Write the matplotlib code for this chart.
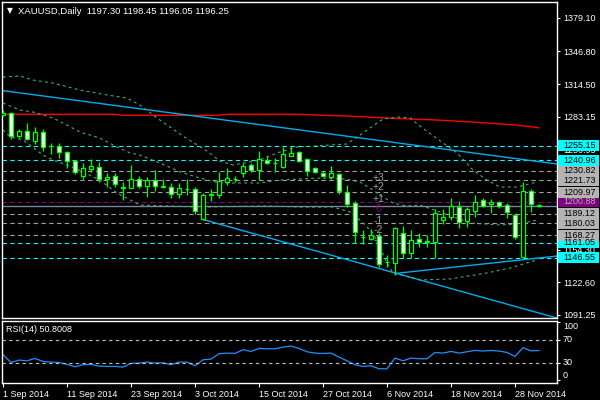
import numpy as np
import matplotlib
matplotlib.use('Agg')
import matplotlib.pyplot as plt
from matplotlib.patches import Rectangle

plt.rcParams['font.family'] = ['Liberation Sans', 'DejaVu Sans']

# daily XAUUSD bars, 1 Sep 2014 .. 3 Dec 2014
opens = [1284.8, 1286.4, 1264.7, 1269.3, 1259.9, 1268.0, 1254.3, 1254.5, 1248.7, 1240.2,
         1226.0, 1232.2, 1234.4, 1222.8, 1226.0, 1214.5, 1214.3, 1222.5, 1216.3, 1221.8,
         1215.3, 1214.7, 1208.0, 1213.0, 1212.8, 1184.3, 1207.3, 1207.3, 1220.2, 1222.8,
         1228.9, 1236.3, 1231.5, 1241.2, 1238.5, 1234.7, 1245.4, 1248.7, 1241.9, 1233.1,
         1228.9, 1225.0, 1227.3, 1210.5, 1199.2, 1166.5, 1164.3, 1168.0, 1142.8, 1140.9,
         1170.1, 1151.3, 1164.6, 1162.3, 1162.0, 1183.0, 1186.2, 1195.4, 1182.4, 1192.0,
         1202.4, 1198.2, 1200.8, 1197.3, 1187.9, 1147.5, 1211.4, 1197.30]
highs = [1289.6, 1287.5, 1271.2, 1276.8, 1272.9, 1271.0, 1257.4, 1257.4, 1249.5, 1241.2,
         1238.0, 1242.2, 1239.0, 1228.3, 1228.9, 1219.6, 1236.3, 1225.7, 1225.0, 1231.5,
         1222.5, 1218.6, 1218.6, 1222.5, 1215.3, 1208.9, 1212.8, 1229.8, 1233.1, 1225.7,
         1238.0, 1238.0, 1249.9, 1245.1, 1242.9, 1254.1, 1254.8, 1250.2, 1242.9, 1234.7,
         1230.8, 1235.4, 1228.3, 1217.0, 1201.7, 1172.9, 1174.3, 1170.0, 1149.1, 1176.0,
         1176.9, 1173.3, 1170.1, 1168.5, 1193.4, 1193.4, 1204.1, 1201.7, 1196.0, 1207.3,
         1204.1, 1203.1, 1201.5, 1199.2, 1190.1, 1220.2, 1212.8, 1198.45]
lows = [1284.0, 1262.0, 1262.2, 1261.0, 1256.4, 1250.2, 1246.7, 1243.4, 1233.1, 1227.3,
        1222.8, 1229.8, 1220.2, 1215.3, 1215.3, 1202.4, 1213.8, 1214.0, 1205.6, 1211.4,
        1213.8, 1204.1, 1204.1, 1207.3, 1188.9, 1183.5, 1201.4, 1204.1, 1217.0, 1220.2,
        1225.0, 1229.8, 1221.8, 1237.3, 1229.8, 1233.9, 1245.0, 1239.5, 1225.7, 1228.3,
        1225.0, 1222.5, 1208.2, 1196.0, 1161.0, 1159.8, 1163.6, 1137.5, 1137.5, 1129.7,
        1146.2, 1146.2, 1157.2, 1157.2, 1145.9, 1179.2, 1183.0, 1175.0, 1176.0, 1186.2,
        1195.4, 1190.1, 1194.4, 1185.3, 1164.3, 1145.9, 1191.1, 1196.05]
closes = [1286.3, 1264.7, 1269.3, 1261.3, 1268.0, 1254.1, 1255.0, 1249.3, 1240.5, 1229.8,
          1233.1, 1235.4, 1222.5, 1225.0, 1218.0, 1214.9, 1222.8, 1216.3, 1221.8, 1216.3,
          1215.7, 1208.0, 1213.8, 1213.4, 1191.8, 1207.0, 1208.7, 1220.8, 1223.5, 1223.2,
          1235.4, 1231.5, 1241.9, 1238.0, 1238.1, 1247.0, 1248.3, 1240.5, 1230.8, 1229.8,
          1226.0, 1228.3, 1211.4, 1198.5, 1171.1, 1166.2, 1168.2, 1140.1, 1142.4, 1175.0,
          1150.8, 1163.6, 1162.0, 1162.1, 1190.1, 1185.7, 1196.6, 1181.4, 1193.4, 1200.2,
          1196.6, 1200.2, 1196.9, 1191.1, 1166.8, 1211.4, 1198.3, 1196.25]

rsi = [43.5, 30.1, 34.2, 33.0, 37.1, 31.9, 30.7, 30.1, 26.7, 22.6,
       26.1, 26.7, 23.8, 23.2, 23.2, 22.0, 28.4, 29.0, 30.7, 29.0,
       29.6, 26.1, 30.7, 30.7, 24.3, 34.8, 35.9, 45.2, 46.4, 45.8,
       52.2, 49.3, 54.5, 53.9, 53.9, 56.8, 58.6, 54.5, 48.7, 46.4,
       45.8, 46.4, 39.4, 33.0, 26.1, 23.2, 24.3, 19.1, 19.1, 37.7,
       33.0, 37.7, 36.5, 36.5, 47.5, 46.4, 49.3, 46.4, 48.7, 51.0,
       49.9, 51.0, 49.9, 47.5, 40.6, 55.7, 50.4, 50.8]

dates = ['1 Sep 2014', '11 Sep 2014', '23 Sep 2014', '3 Oct 2014', '15 Oct 2014',
         '27 Oct 2014', '6 Nov 2014', '18 Nov 2014', '28 Nov 2014']
date_idx = [0, 8, 16, 24, 32, 40, 48, 56, 64]

# moving average (red) and bands (green dotted)
ma_idx = [0, 14, 15, 27, 28, 37, 40, 43, 45, 47, 50, 54, 58, 61, 64, 66, 67]
ma_val = [1285.5, 1285.5, 1284.5, 1284.5, 1285.5, 1285.5, 1284.5, 1283.8, 1283.1, 1282.2,
          1281.2, 1280.0, 1278.3, 1276.8, 1275.1, 1273.5, 1272.3]

up_idx = [0, 2.1, 3.75, 6.25, 9.6, 13, 15.5, 17.1, 19.6, 22.5, 25.5, 27.1, 28.75, 32.1, 34.25,
          36.75, 40.9, 43, 45, 47.5, 49.6, 50.9, 52.1, 55, 56.75, 58.75, 60.5, 62.1, 64.25, 66.75]
up_val = [1321.6, 1322.6, 1318.7, 1315.8, 1309.0, 1304.2, 1301.3, 1294.5, 1280.0, 1264.4,
          1249.9, 1240.2, 1236.3, 1241.2, 1248.0, 1253.8, 1255.7, 1256.7, 1267.4, 1280.9,
          1282.9, 1281.9, 1274.1, 1257.7, 1248.0, 1231.5, 1221.8, 1215.0, 1215.0, 1219.9]
mid_idx = [0, 2.1, 3.75, 6.25, 8, 9.6, 12.1, 14.25, 15.9, 17.1, 19.6, 22.5, 25.5, 27.1, 32.1,
           34.6, 39.6, 42.75, 44.6, 46.25, 47.1, 48.75, 50.5, 52.1, 54.6, 58.4, 62.1, 64.6, 66.75]
mid_val = [1296.4, 1289.6, 1287.7, 1281.9, 1275.1, 1268.3, 1262.5, 1253.8, 1248.0, 1246.0,
           1238.3, 1228.6, 1221.8, 1218.9, 1218.9, 1221.8, 1223.7, 1222.8, 1219.9, 1212.1,
           1207.3, 1199.5, 1196.6, 1197.6, 1190.8, 1180.1, 1178.2, 1179.2, 1183.0]
low_idx = [0, 0.9, 2.5, 5, 6.25, 8, 10, 12.1, 14.25, 15.9, 17.1, 20.5, 24.6, 33, 37.1, 41.25,
           43.4, 44.6, 46.25, 48, 48.75, 52.1, 55.9, 60.5, 63.4, 66.75]
low_val = [1270.3, 1263.5, 1260.6, 1246.0, 1241.2, 1236.3, 1229.6, 1221.8, 1209.2, 1202.4,
           1197.6, 1196.6, 1195.6, 1196.6, 1195.6, 1195.6, 1190.8, 1183.0, 1170.4, 1141.4,
           1131.7, 1124.9, 1125.9, 1131.7, 1136.5, 1144.3]

# trend lines: (bar index, price) anchors
trend_lines = [([0, 69.25], [1308.4, 1237.3]),
               ([25, 69.25], [1183.5, 1088.0]),
               ([49, 69.25], [1131.2, 1148.1])]

# horizontal levels: price, line colour, label box colour, label text colour
levels = [(1146.55, '#00FFFF', '#00FFFF', 'black'),
          (1161.05, '#00FFFF', '#00FFFF', 'black'),
          (1168.27, '#A0A0A0', '#B4B4B4', 'black'),
          (1180.03, '#A0A0A0', '#B4B4B4', 'black'),
          (1189.12, '#A0A0A0', '#B4B4B4', 'black'),
          (1200.88, '#800080', '#800080', '#B0B0B0'),
          (1209.97, '#A0A0A0', '#B4B4B4', 'black'),
          (1221.73, '#A0A0A0', '#B4B4B4', 'black'),
          (1230.82, '#A0A0A0', '#B4B4B4', 'black'),
          (1240.96, '#00FFFF', '#00FFFF', 'black'),
          (1255.15, '#00FFFF', '#00FFFF', 'black')]
bid = 1196.25

dev_labels = ['+3', '+2', '+1', '0', '-1', '-2', '-3']
dev_prices = [1223.5, 1214.7, 1203.1, 1193.4, 1182.4, 1173.3, 1163.6]

price_ticks = [1379.10, 1346.80, 1314.50, 1283.15, 1250.95, 1154.30, 1122.60, 1091.25]

W, H = 600, 400
lime = '#00FF00'
fs = 6.5


def px_box(l, t, r, b):
    return [l / W, 1 - b / H, (r - l) / W, (b - t) / H]


fig = plt.figure(figsize=(6, 4), dpi=100, facecolor='black')
ax = fig.add_axes(px_box(2, 2, 557, 318))
rax = fig.add_axes(px_box(2, 321, 557, 383))

for a in (ax, rax):
    a.set_facecolor('black')
    a.set_xlim(-0.125, 69.25)
    for s in a.spines.values():
        s.set_color('white')
        s.set_linewidth(1)
    a.tick_params(colors='white', labelcolor='white', labelsize=fs, length=2.2, width=0.8, pad=2)
    a.yaxis.tick_right()

ax.set_ylim(1088.05, 1394.32)
ax.set_xticks([])
ax.set_yticks(price_ticks)
ax.set_yticklabels(['%.2f' % p for p in price_ticks])

# levels
for p, lc, bc, tc in levels:
    ax.axhline(p, color=lc, lw=0.8, ls=(0, (4, 3)), zorder=1)
ax.axhline(bid, color='#778899', lw=1, zorder=1)

ax.plot(ma_idx, ma_val, color='#FF0000', lw=1, zorder=2)
for xs, ys in trend_lines:
    ax.plot(xs, ys, color='#00AEEF', lw=1, zorder=2)
for xs, ys in ((up_idx, up_val), (mid_idx, mid_val), (low_idx, low_val)):
    ax.plot(xs, ys, color='#3CB371', lw=0.8, ls=(0, (2.5, 3)), zorder=2)

for lab, p in zip(dev_labels, dev_prices):
    ax.text(46.875, p, lab, color='#800080' if lab == '0' else '#A0A0A0',
            fontsize=7.5, ha='center', va='center', zorder=3)

# candles
x = np.arange(len(opens))
o = np.array(opens)
c = np.array(closes)
bottoms = np.minimum(o, c)
heights = np.maximum(np.abs(c - o), 0.05)
faces = ['white' if cc < oo else 'black' for oo, cc in zip(o, c)]
ax.vlines(x, lows, highs, color=lime, lw=0.9, zorder=5)
ax.bar(x, heights, bottom=bottoms, width=0.58, color=faces, edgecolor=lime, linewidth=0.9, zorder=6)

# header
fig.text(10 / W, 1 - 11 / H, '\u25BC', color='white', fontsize=5.5, ha='center', va='center',
         family=['DejaVu Sans'])
fig.text(18 / W, 1 - 11 / H, 'XAUUSD,Daily  1197.30 1198.45 1196.05 1196.25', color='white',
         fontsize=6.8, va='center')

# price label boxes on the right
fig.canvas.draw()
for p, lc, bc, tc in levels:
    yd = ax.transData.transform((0, p))[1]
    fig.add_artist(Rectangle((558 / W, (yd - 5.5) / H), 41 / W, 11 / H, transform=fig.transFigure,
                             facecolor=bc, edgecolor='none', zorder=4))
    fig.text(563 / W, yd / H, '%.2f' % p, color=tc, fontsize=fs, va='center', zorder=5)

# RSI panel
rax.set_ylim(-5.65, 102.2)
rax.plot(x, rsi, color='#1E90FF', lw=0.9)
for lv in (70, 30):
    rax.axhline(lv, color='#C0C0C0', lw=0.8, ls=(0, (3, 3)))
rax.set_yticks([0, 30, 70, 100])
rax.set_yticklabels([])
for lv, va in ((100, 'top'), (70, 'center'), (30, 'center'), (0, 'bottom')):
    rax.text(1 + 6 / 555, lv, str(lv), transform=rax.get_yaxis_transform(), color='white',
             fontsize=fs, va=va, ha='left')
rax.text(4 / 555, 1 - 9 / 62, 'RSI(14) 50.8008', transform=rax.transAxes, color='white',
         fontsize=fs, va='center')
rax.set_xticks(date_idx)
rax.set_xticklabels(dates, ha='left')
rax.tick_params(axis='x', length=3)

fig.savefig('out.png', dpi=100, facecolor='black')
